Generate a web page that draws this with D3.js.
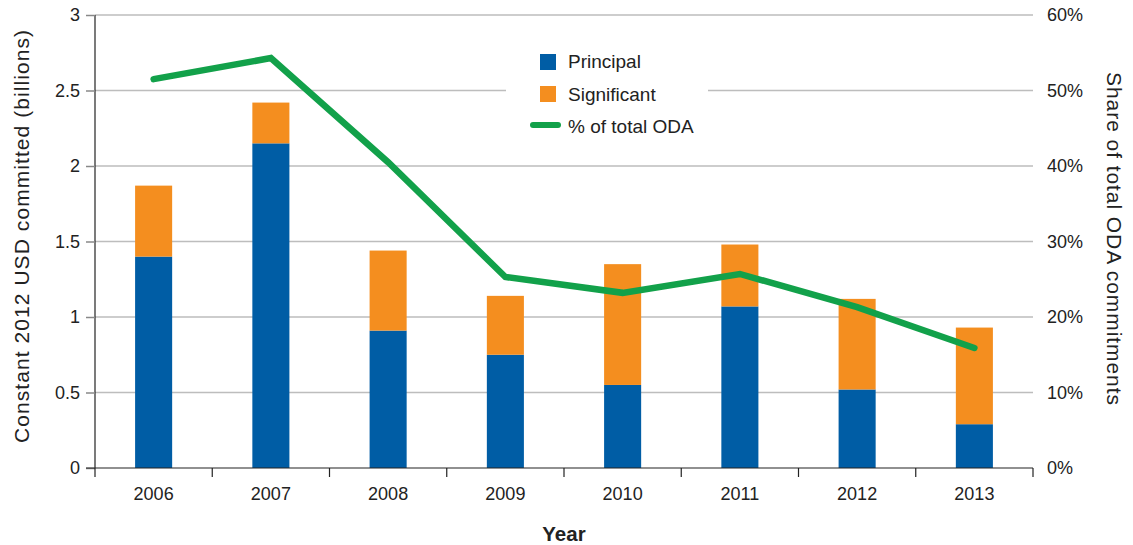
<!DOCTYPE html>
<html>
<head>
<meta charset="utf-8">
<script src="https://cdn.jsdelivr.net/npm/d3@7"></script>
<style>
  html, body { margin: 0; padding: 0; background: #fff; }
  svg { display: block; font-family: "Liberation Sans", Arial, Helvetica, sans-serif; }
</style>
</head>
<body>
<svg id="chart" width="1133" height="545"></svg>
<script>
const years = ["2006", "2007", "2008", "2009", "2010", "2011", "2012", "2013"];
const principal = [1.40, 2.15, 0.91, 0.75, 0.55, 1.07, 0.52, 0.29];
const significant = [0.47, 0.27, 0.53, 0.39, 0.80, 0.41, 0.60, 0.64];
const shareODA = [0.515, 0.543, 0.405, 0.253, 0.232, 0.257, 0.213, 0.159];
const leftTicks = [0, 0.5, 1, 1.5, 2, 2.5, 3];
const rightTicks = [0, 0.1, 0.2, 0.3, 0.4, 0.5, 0.6];
const leftTickLabels = ["0", "0.5", "1", "1.5", "2", "2.5", "3"];
const rightTickLabels = ["0%", "10%", "20%", "30%", "40%", "50%", "60%"];
const seriesNames = ["Principal", "Significant", "% of total ODA"];

const colors = { principal: "#005da5", significant: "#f48e1f", line: "#12a14a" };

const svg = d3.select("#chart");
const L = 95, R = 1033, T = 15, B = 468;

const x = d3.scaleBand().domain(years).range([L, R]).padding(0);
const yL = d3.scaleLinear().domain([0, 3]).range([B, T]);
const yR = d3.scaleLinear().domain([0, 0.6]).range([B, T]);
const barW = x.bandwidth() * 0.316;

// gridlines
svg.append("g").selectAll("line").data(leftTicks.filter(d => d > 0)).join("line")
  .attr("x1", L).attr("x2", R)
  .attr("y1", d => yL(d)).attr("y2", d => yL(d))
  .attr("stroke", "#bdbdbd").attr("stroke-width", 1.5);

// left axis
const axL = svg.append("g").attr("transform", `translate(${L},0)`)
  .call(d3.axisLeft(yL).tickValues(leftTicks).tickSize(9).tickPadding(6)
    .tickFormat((d, i) => leftTickLabels[i]));
axL.select(".domain").attr("stroke", "#222").attr("stroke-width", 1.2).attr("d", `M0,${T}V${B}`);
axL.selectAll(".tick line").attr("stroke", "#888").attr("stroke-width", 1.5);
axL.selectAll(".tick text").attr("font-size", 18).attr("fill", "#222").attr("font-family", null);

// right axis labels
svg.append("g").selectAll("text").data(rightTicks).join("text")
  .attr("x", 1047).attr("y", d => yR(d)).attr("dy", "0.35em")
  .attr("font-size", 18).attr("fill", "#222")
  .text((d, i) => rightTickLabels[i]);

// stacked bars
const stack = d3.stack().keys(["principal", "significant"])(
  years.map((y, i) => ({ year: y, principal: principal[i], significant: significant[i] })));
svg.append("g").selectAll("g").data(stack).join("g")
  .attr("fill", d => colors[d.key])
  .selectAll("rect").data(d => d).join("rect")
  .attr("x", d => x(d.data.year) + (x.bandwidth() - barW) / 2)
  .attr("width", barW)
  .attr("y", d => yL(d[1]))
  .attr("height", d => yL(d[0]) - yL(d[1]));

// x axis
const axX = svg.append("g").attr("transform", `translate(0,${B})`);
axX.append("line").attr("x1", L - 9).attr("x2", R).attr("y1", 0).attr("y2", 0)
  .attr("stroke", "#222").attr("stroke-width", 1.2);
const bounds = years.map(d => x(d)).concat([R]);
axX.selectAll(".tk").data(bounds).join("line").attr("class", "tk")
  .attr("x1", d => d).attr("x2", d => d).attr("y1", 0).attr("y2", 9)
  .attr("stroke", "#222").attr("stroke-width", 1.2);
axX.selectAll(".lb").data(years).join("text").attr("class", "lb")
  .attr("x", d => x(d) + x.bandwidth() / 2).attr("y", 32)
  .attr("text-anchor", "middle").attr("font-size", 18).attr("fill", "#222")
  .text(d => d);

// line
const line = d3.line().x((d, i) => x(years[i]) + x.bandwidth() / 2).y(d => yR(d));
svg.append("path").datum(shareODA).attr("d", line)
  .attr("fill", "none").attr("stroke", colors.line).attr("stroke-width", 6.5)
  .attr("stroke-linecap", "round").attr("stroke-linejoin", "miter");

// legend
const lg = svg.append("g");
lg.append("rect").attr("x", 506).attr("y", 40).attr("width", 202).attr("height", 104).attr("fill", "#fff");
lg.append("rect").attr("x", 540).attr("y", 54).attr("width", 16).attr("height", 16).attr("fill", colors.principal);
lg.append("rect").attr("x", 540).attr("y", 86).attr("width", 16).attr("height", 16).attr("fill", colors.significant);
lg.append("line").attr("x1", 533).attr("x2", 558).attr("y1", 125).attr("y2", 125)
  .attr("stroke", colors.line).attr("stroke-width", 6).attr("stroke-linecap", "round");
lg.selectAll("text").data(seriesNames).join("text")
  .attr("x", 568).attr("y", (d, i) => 68 + i * 32.5)
  .attr("font-size", 19).attr("fill", "#222").text(d => d);

// axis titles
svg.append("text").attr("transform", "translate(28.5,236.5) rotate(-90)")
  .attr("text-anchor", "middle").attr("font-size", 21).attr("fill", "#222")
  .attr("textLength", 413).attr("lengthAdjust", "spacing")
  .text("Constant 2012 USD committed (billions)");
svg.append("text").attr("transform", "translate(1107,238.5) rotate(90)")
  .attr("text-anchor", "middle").attr("font-size", 21).attr("fill", "#222")
  .attr("textLength", 333).attr("lengthAdjust", "spacing")
  .text("Share of total ODA commitments");
svg.append("text").attr("x", 564).attr("y", 541)
  .attr("text-anchor", "middle").attr("font-size", 20.5).attr("font-weight", "bold").attr("fill", "#222")
  .text("Year");
</script>
</body>
</html>
